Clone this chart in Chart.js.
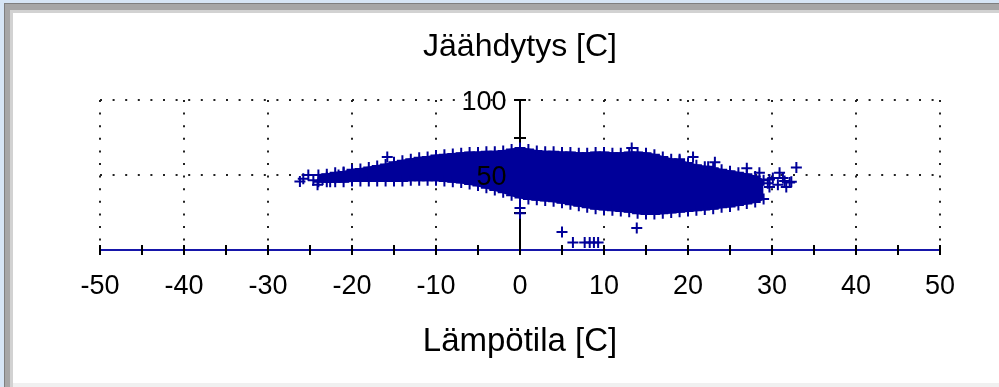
<!DOCTYPE html>
<html>
<head>
<meta charset="utf-8">
<script src="https://cdn.jsdelivr.net/npm/chart.js@4.4.0/dist/chart.umd.min.js"></script>
<style>
html, body { margin: 0; padding: 0; width: 999px; height: 387px; overflow: hidden; background: #d6e5f5; }
.box { position: absolute; }
#b1 { left: 4px; top: 3px; right: 0; bottom: 0; background: #7f7f7f; }
#b2 { left: 5px; top: 4px; right: 0; bottom: 0; background: #a6a6a6; }
#b3 { left: 10px; top: 10px; right: 0; bottom: 0; background: #d2d2d2; }
#plot { left: 13px; top: 13px; width: 986px; height: 370px; background: #fff; }
#foot { left: 13px; top: 383px; right: 0; bottom: 0; background: #f0f0f0; }
</style>
</head>
<body>
<div class="box" id="b1"></div>
<div class="box" id="b2"></div>
<div class="box" id="b3"></div>
<div class="box" id="plot"><canvas id="chart" width="986" height="370"></canvas></div>
<div class="box" id="foot"></div>
<script>
// axis values
const xLabelTicks = [-50, -40, -30, -20, -10, 0, 10, 20, 30, 40, 50];
const xTickMarks = [-50, -45, -40, -35, -30, -25, -20, -15, -10, -5, 0, 5, 10, 15, 20, 25, 30, 35, 40, 45, 50];
const yTickMarks = [25, 50, 75, 100];
const yLabelValues = [50, 100];
const yGridValues = [50, 100];

// dense cloud, read as upper / lower edge per degree
const blobX = [-24, -23, -22, -21, -20, -19, -18, -17, -16, -15, -14, -13, -12, -11, -10, -9, -8, -7, -6, -5, -4, -3, -2, -1,
  0, 1, 2, 3, 4, 5, 6, 7, 8, 9, 10, 11, 12, 13, 14, 15, 16, 17, 18, 19, 20, 21, 22, 23, 24, 25, 26, 27, 28, 29];
const blobUpper = [50, 50.5, 51.5, 52, 53.5, 54, 55, 56, 57, 58.5, 59.5, 60.5, 61.5, 62, 63, 63.5, 64, 64.5, 65, 65, 65.5, 65.5, 66, 67,
  68, 67, 66, 65.5, 65.5, 65, 65, 64.5, 64.5, 65, 65, 64.5, 64.5, 65, 65, 64.5, 63.5, 62, 60.5, 59.5, 58, 56.5, 55.5, 54.5, 53.5, 52.5, 51.5, 50.5, 49, 46.5];
const blobLower = [45.5, 45.5, 45.5, 45.5, 46, 46, 46, 46, 46, 46, 46, 46.5, 46.5, 46.5, 46.5, 46, 45.5, 45, 44, 43, 41.5, 40, 38.5, 36.5,
  35, 34, 33.5, 33, 32.5, 31.5, 30.5, 29.5, 28.5, 27.5, 27, 26.5, 26, 25.5, 24.5, 24, 24, 24.5, 25, 25.5, 26, 26.5, 27, 27.5, 28.5, 29, 30, 31, 32, 34];

// sparse ends of the cloud
const leftTailX = [-26.2, -25.8, -25.2, -24.6, -24.1, -23.5, -23, -22.6, -22, -21.6, -21];
const leftTailY = [45.7, 47.5, 50, 46.5, 43.5, 47, 48.5, 45.5, 48, 50, 51.5];
const rightTailX = [29.5, 29.7, 30.1, 30.7, 30.9, 31.3, 31.7, 32.1, 32.3, 32.9, 28.5, 27, 29.7, 31.5];
const rightTailY = [44.5, 42, 48, 43.5, 51.5, 48, 42, 45, 45.5, 55, 51.5, 54.5, 47, 46];

// single points away from the cloud
const outlierX = [0, 0, 5, 6.3, 7.7, 8.3, 8.8, 9.3, 13.9, -15.8, 13.3, 20.6, 23.2, 19, 22.4];
const outlierY = [28, 24.5, 12, 5, 5, 5, 5, 5, 14.7, 62, 68, 62, 58.5, 60.5, 55.5];

const NAVY = '#000099';

function pts(xs, ys) {
    return xs.map((x, i) => ({ x: x, y: ys[i] }));
}

function crossSet(data) {
    return {
        data: data,
        showLine: false,
        pointStyle: 'cross',
        pointRadius: 5.5,
        pointBorderWidth: 2,
        pointBorderColor: NAVY,
        pointBackgroundColor: NAVY
    };
}

// ticks that cross the axis lines, under the data
const crossTicks = {
    id: 'crossTicks',
    beforeDatasetsDraw(chart) {
        const { ctx, scales: { x, y } } = chart;
        const y0 = Math.round(y.getPixelForValue(0));
        const x0 = Math.round(x.getPixelForValue(0));
        ctx.save();
        ctx.strokeStyle = '#000';
        ctx.lineWidth = 2;
        ctx.beginPath();
        xTickMarks.forEach(v => {
            const px = Math.round(x.getPixelForValue(v));
            ctx.moveTo(px, y0 - 5);
            ctx.lineTo(px, y0 + 5);
        });
        yTickMarks.forEach(v => {
            const py = Math.round(y.getPixelForValue(v));
            ctx.moveTo(x0 - 6, py);
            ctx.lineTo(x0 + 6, py);
        });
        ctx.stroke();
        ctx.restore();
    }
};

Chart.defaults.font.family = '"Liberation Sans", Arial, sans-serif';
Chart.defaults.color = '#000';

new Chart(document.getElementById('chart').getContext('2d'), {
    type: 'line',
    data: {
        datasets: [
            crossSet(pts(outlierX, outlierY)),
            crossSet(pts(leftTailX, leftTailY)),
            crossSet(pts(rightTailX, rightTailY)),
            crossSet(pts(blobX, blobUpper)),
            crossSet(pts(blobX, blobLower)),
            {
                data: pts(blobX, blobUpper),
                borderColor: NAVY,
                borderWidth: 2,
                backgroundColor: NAVY,
                pointRadius: 0,
                fill: '+1'
            },
            {
                data: pts(blobX, blobLower),
                borderColor: NAVY,
                borderWidth: 2,
                pointRadius: 0,
                fill: false
            }
        ]
    },
    options: {
        responsive: false,
        animation: false,
        events: [],
        layout: { padding: { left: 87, right: 59, top: 0, bottom: 0 } },
        scales: {
            x: {
                type: 'linear',
                min: -50,
                max: 50,
                afterBuildTicks: s => { s.ticks = xLabelTicks.map(v => ({ value: v })); },
                afterFit: s => { s.height = 133; },
                ticks: { font: { size: 27 }, padding: 20, maxRotation: 0, autoSkip: false },
                grid: { color: '#222', lineWidth: 2, drawTicks: false },
                border: { color: '#1616aa', width: 2, dash: [2, 10.6] },
                title: {
                    display: true,
                    text: 'Lämpötila [C]',
                    font: { size: 33 },
                    padding: { top: 0, bottom: 21 }
                }
            },
            y: {
                type: 'linear',
                min: 0,
                max: 100,
                position: { x: 0 },
                ticks: {
                    stepSize: 25,
                    font: { size: 27 },
                    labelOffset: 3,
                    z: 1,
                    // en space keeps the label clear of the axis line
                    callback: v => yLabelValues.includes(v) ? v + '\u2002' : ''
                },
                grid: {
                    drawTicks: false,
                    lineWidth: 2,
                    color: c => (c.tick && yGridValues.includes(c.tick.value)) ? '#222' : 'transparent'
                },
                border: { color: '#000', width: 2, dash: [2, 10.6] }
            }
        },
        plugins: {
            legend: { display: false },
            tooltip: { enabled: false },
            title: {
                display: true,
                text: 'Jäähdytys [C]',
                color: '#000',
                font: { size: 32, weight: 'normal' },
                padding: { top: 15, bottom: 33.6 }
            }
        }
    },
    plugins: [crossTicks]
});
</script>
</body>
</html>
